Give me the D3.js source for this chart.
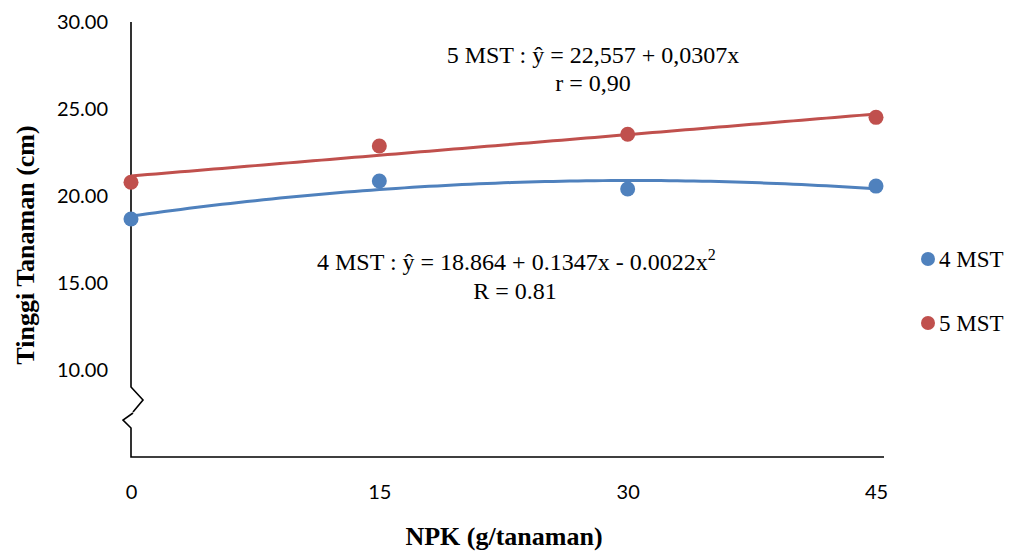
<!DOCTYPE html>
<html><head><meta charset="utf-8">
<script src="https://cdn.jsdelivr.net/npm/d3@7"></script>
<style>body{margin:0;background:#fff}svg{display:block}</style>
</head><body>
<svg id="c" width="1013" height="551"></svg>
<script>
const xValues = [0, 15, 30, 45];
const mst4 = [18.68, 20.86, 20.40, 20.57];
const mst5 = [20.79, 22.87, 23.55, 24.52];
const yTicks = [10, 15, 20, 25, 30];
const seriesNames = ["4 MST", "5 MST"];
const colors = ["#4F81BD", "#C0504D"];

const svg = d3.select("#c");
const x = d3.scaleLinear().domain([0, 45]).range([131, 876]);
const y = d3.scaleLinear().domain([5, 30]).range([457, 22]);

// least-squares polynomial fit
function polyfit(xs, ys, deg) {
  const n = deg + 1;
  const A = Array.from({length: n}, () => new Array(n + 1).fill(0));
  for (let i = 0; i < xs.length; i++) {
    for (let r = 0; r < n; r++) {
      for (let c = 0; c < n; c++) A[r][c] += Math.pow(xs[i], r + c);
      A[r][n] += ys[i] * Math.pow(xs[i], r);
    }
  }
  for (let i = 0; i < n; i++) {
    let p = i;
    for (let k = i + 1; k < n; k++) if (Math.abs(A[k][i]) > Math.abs(A[p][i])) p = k;
    [A[i], A[p]] = [A[p], A[i]];
    for (let k = i + 1; k < n; k++) {
      const f = A[k][i] / A[i][i];
      for (let j = i; j <= n; j++) A[k][j] -= f * A[i][j];
    }
  }
  const coef = new Array(n).fill(0);
  for (let i = n - 1; i >= 0; i--) {
    let s = A[i][n];
    for (let j = i + 1; j < n; j++) s -= A[i][j] * coef[j];
    coef[i] = s / A[i][i];
  }
  return coef;
}
const evalPoly = (c, v) => c.reduce((s, a, i) => s + a * Math.pow(v, i), 0);

const sans = "Lato, 'Open Sans', sans-serif";
const serif = "'Liberation Serif', 'Times New Roman', serif";

// axes
const yAxis = d3.axisLeft(y).tickValues(yTicks).tickFormat(d3.format(".2f")).tickSize(0).tickPadding(23);
const gy = svg.append("g").attr("transform", "translate(131,0)").call(yAxis);
gy.select(".domain").remove();
gy.selectAll("text").attr("font-family", sans).attr("font-size", 20).attr("fill", "#000");

const xAxis = d3.axisBottom(x).tickValues(xValues).tickFormat(d3.format("d")).tickSize(0).tickPadding(28);
const gx = svg.append("g").attr("transform", "translate(0,457)").call(xAxis);
gx.select(".domain").remove();
gx.selectAll("text").attr("font-family", sans).attr("font-size", 20).attr("fill", "#000");

// axis lines with break
svg.append("path")
  .attr("d", `M${x(0)},${y(30)} L${x(0)},387 L143,400 L133,412 M133,413 L123,420 L${x(0)},428 L${x(0)},${y(5)} L884,${y(5)}`)
  .attr("fill", "none").attr("stroke", "#000").attr("stroke-width", 1.6);

// trendlines
const seriesData = [mst4, mst5];
const fits = [polyfit(xValues, mst4, 2), polyfit(xValues, mst5, 1)];
const xs = d3.range(0, 45.01, 0.5);
fits.forEach((c, i) => {
  svg.append("path")
    .attr("d", d3.line().x(d => x(d)).y(d => y(evalPoly(c, d)))(xs))
    .attr("fill", "none").attr("stroke", colors[i]).attr("stroke-width", 3);
});

// points
seriesData.forEach((vals, i) => {
  svg.append("g").selectAll("circle").data(vals).join("circle")
    .attr("cx", (d, j) => x(xValues[j])).attr("cy", d => y(d)).attr("r", 7.5)
    .attr("fill", colors[i]);
});

// annotations
svg.append("text").attr("x", 593).attr("y", 63).attr("text-anchor", "middle")
  .attr("font-family", serif).attr("font-size", 24).text("5 MST : ŷ = 22,557 + 0,0307x");
svg.append("text").attr("x", 593).attr("y", 91).attr("text-anchor", "middle")
  .attr("font-family", serif).attr("font-size", 24).text("r = 0,90");
const t4 = svg.append("text").attr("x", 317).attr("y", 270)
  .attr("font-family", serif).attr("font-size", 24);
t4.append("tspan").text("4 MST : ŷ = 18.864 + 0.1347x - 0.0022x");
t4.append("tspan").attr("dy", -10).attr("font-size", 16).text("2");
svg.append("text").attr("x", 515).attr("y", 299).attr("text-anchor", "middle")
  .attr("font-family", serif).attr("font-size", 24).text("R = 0.81");

// legend
const legendY = [259, 323];
seriesNames.forEach((n, i) => {
  svg.append("circle").attr("cx", 928).attr("cy", legendY[i]).attr("r", 7).attr("fill", colors[i]);
  svg.append("text").attr("x", 939).attr("y", legendY[i] + 8)
    .attr("font-family", serif).attr("font-size", 23).text(n);
});

// axis titles
svg.append("text").attr("x", 504).attr("y", 545).attr("text-anchor", "middle")
  .attr("font-family", serif).attr("font-size", 26).attr("font-weight", "bold").text("NPK (g/tanaman)");
svg.append("text").attr("transform", "translate(34,245) rotate(-90)").attr("text-anchor", "middle")
  .attr("font-family", serif).attr("font-size", 26).attr("font-weight", "bold").text("Tinggi Tanaman (cm)");
</script>
</body></html>
